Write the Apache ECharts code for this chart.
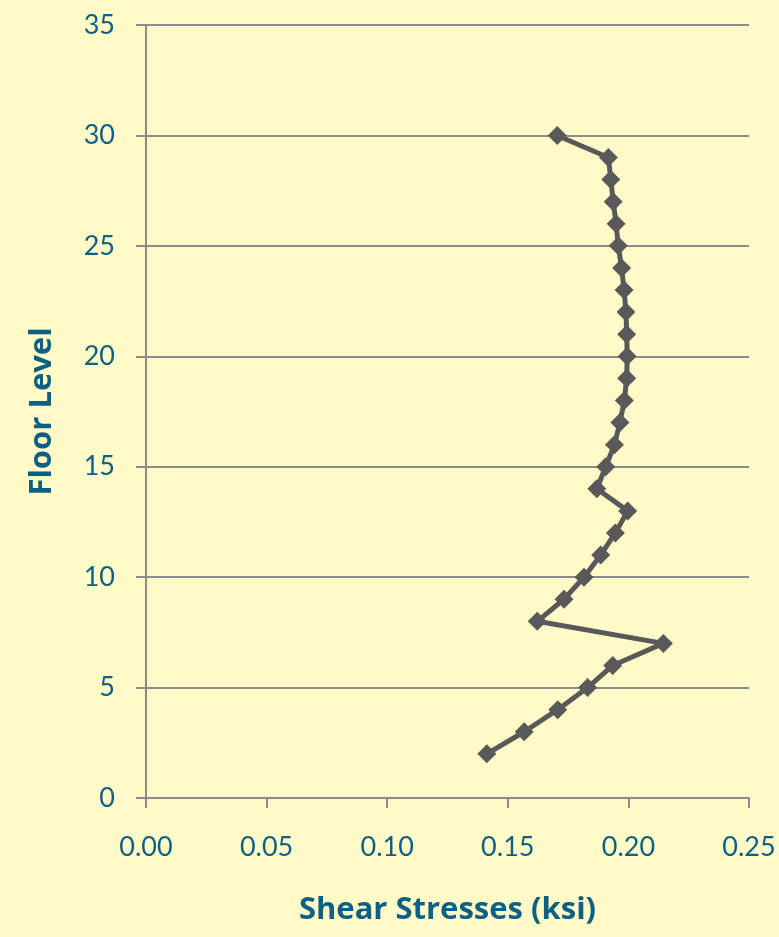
<!DOCTYPE html>
<html>
<head>
<meta charset="utf-8">
<script src="https://cdn.jsdelivr.net/npm/echarts@6/dist/echarts.min.js"></script>
<style>
html,body{margin:0;padding:0;background:#FFFAC8;}
#chart{width:779px;height:937px;}
</style>
</head>
<body>
<div id="chart"></div>
<script>
const floorLevels = [2,3,4,5,6,7,8,9,10,11,12,13,14,15,16,17,18,19,20,21,22,23,24,25,26,27,28,29,30];
const shearStress = [0.1413,0.1568,0.1707,0.1831,0.1935,0.2145,0.1622,0.1733,0.1816,0.1885,0.1946,0.1997,0.1869,0.1906,0.1942,0.1965,0.1983,0.1993,0.1995,0.1993,0.1990,0.1982,0.1972,0.1958,0.1949,0.1937,0.1927,0.1917,0.1705];
const xTicks = [0, 0.05, 0.10, 0.15, 0.20, 0.25];
const yTicks = [0, 5, 10, 15, 20, 25, 30, 35];
const xTitle = 'Shear Stresses (ksi)';
const yTitle = 'Floor Level';

const textColor = '#0E5F84';
const fontFam = 'Lato, "Open Sans", sans-serif';
const titleFam = '"Open Sans", Lato, sans-serif';
const data = floorLevels.map((f, i) => [shearStress[i], f]);

const chart = echarts.init(document.getElementById('chart'), null, {renderer: 'canvas'});
chart.setOption({
  backgroundColor: '#FFFAC8',
  animation: false,
  grid: {left: 146, right: 30, top: 25, bottom: 139, containLabel: false},
  xAxis: {
    type: 'value',
    min: xTicks[0], max: xTicks[xTicks.length - 1], interval: 0.05,
    name: xTitle, nameLocation: 'middle', nameGap: 97,
    nameTextStyle: {color: textColor, fontFamily: titleFam, fontWeight: 'bold', fontSize: 31},
    axisLine: {show: true, lineStyle: {color: '#8C8C8C', width: 2}},
    axisTick: {show: true, length: 10, lineStyle: {color: '#8C8C8C', width: 2}},
    axisLabel: {color: textColor, fontFamily: fontFam, fontSize: 27, margin: 36,
      formatter: v => v.toFixed(2)},
    splitLine: {show: false}
  },
  yAxis: {
    type: 'value',
    min: yTicks[0], max: yTicks[yTicks.length - 1], interval: 5,
    name: yTitle, nameLocation: 'middle', nameGap: 88, nameRotate: 90,
    nameTextStyle: {color: textColor, fontFamily: titleFam, fontWeight: 'bold', fontSize: 31},
    axisLine: {show: true, lineStyle: {color: '#8C8C8C', width: 2}},
    axisTick: {show: true, length: 10, lineStyle: {color: '#8C8C8C', width: 2}},
    axisLabel: {color: textColor, fontFamily: fontFam, fontSize: 27, margin: 31},
    splitLine: {show: true, lineStyle: {color: '#8C8C8C', width: 2}}
  },
  series: [{
    type: 'line',
    data: data,
    symbol: 'diamond',
    symbolSize: 19,
    lineStyle: {color: '#595959', width: 5},
    itemStyle: {color: '#595959'},
    z: 3
  }]
});
</script>
</body>
</html>
